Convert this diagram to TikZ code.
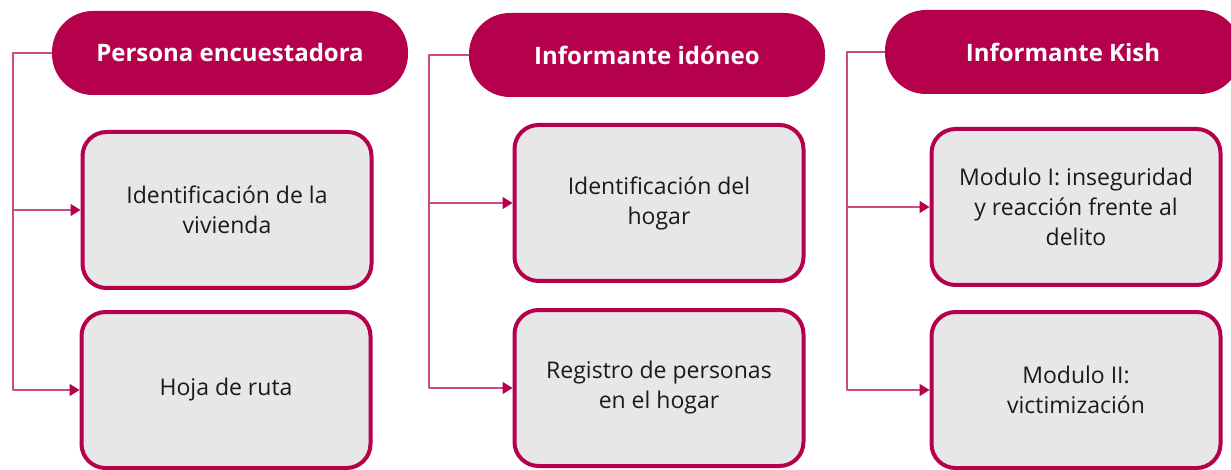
\documentclass[tikz,border=0pt]{standalone}
\usepackage{fontspec}
\setmainfont{Open Sans}
\usetikzlibrary{arrows.meta}
\definecolor{crimson}{RGB}{181,0,75}
\definecolor{boxgray}{RGB}{231,231,231}
\definecolor{inkgray}{RGB}{26,26,26}

\begin{document}
\begin{tikzpicture}[line cap=round,line join=round, x=1pt,y=-1pt,
  header/.style={fill=crimson, text=white, rounded corners=41pt, minimum width=356pt, minimum height=84pt, font=\fontsize{24}{28}\selectfont\bfseries},
  item/.style={draw=crimson, line width=4pt, fill=boxgray, rounded corners=24pt, minimum width=289pt, minimum height=156pt, align=center, text=inkgray, font=\fontsize{23}{30}\selectfont},
  link/.style={draw=crimson!70, line width=1.5pt, -{Triangle[length=10pt, width=12pt, color=crimson]}}]
\useasboundingbox (0,0) rectangle (1231,470);
% cabeceras
\node[header] (enc) at (230,53) {Persona encuestadora};
\node[header] (ido) at (647,55) {Informante idóneo};
\node[header] (kis) at (1063,52) {Informante Kish};
% cajas
\node[item] (viv) at (227,210) {Identificación de la\\vivienda};
\node[item] (hoj) at (226,390) {Hoja de ruta};
\node[item] (hog) at (659,203) {Identificación del\\hogar};
\node[item] (reg) at (659,388) {Registro de personas\\en el hogar};
\node[item] (mo1) at (1076,207) {Modulo I: inseguridad\\y reacción frente al\\delito};
\node[item] (mo2) at (1076,390) {Modulo II:\\victimización};
% conectores
\coordinate (t1) at (13,53);
\coordinate (t2) at (429,55);
\coordinate (t3) at (847,52);
\draw[link] (enc.west) -- (t1) |- (hoj.west);
\draw[link] (t1) |- (viv.west);
\draw[link] (ido.west) -- (t2) |- (reg.west);
\draw[link] (t2) |- (hog.west);
\draw[link] (kis.west) -- (t3) |- (mo2.west);
\draw[link] (t3) |- (mo1.west);
\end{tikzpicture}
\end{document}
